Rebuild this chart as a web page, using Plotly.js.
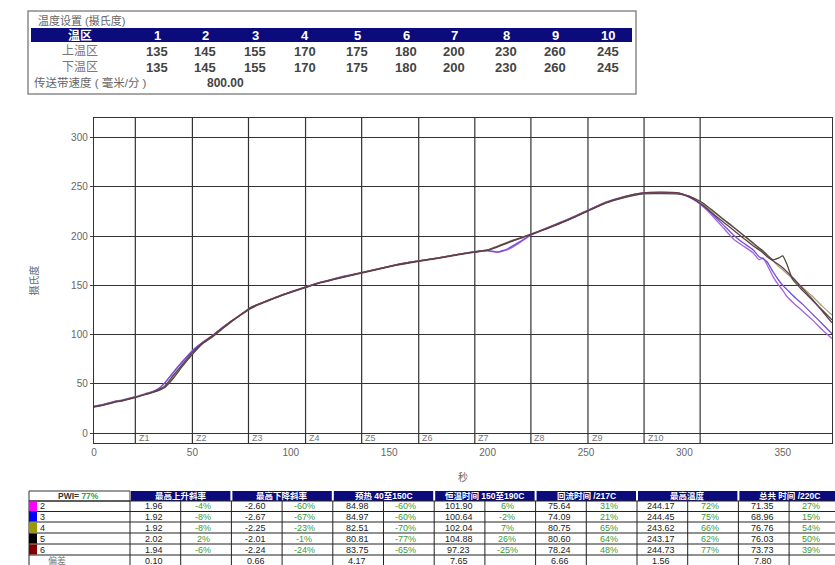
<!DOCTYPE html>
<html>
<head>
<meta charset="utf-8">
<script src="https://cdn.plot.ly/plotly-3.0.1.min.js"></script>
<style>html,body{margin:0;padding:0;background:#fff;}#chart{width:835px;height:565px;}</style>
</head>
<body>
<div id="chart"></div>
<script>
// ---------- data ----------
const zoneLabels = ['1','2','3','4','5','6','7','8','9','10'];
const upperTemps = [135,145,155,170,175,180,200,230,260,245];
const lowerTemps = [135,145,155,170,175,180,200,230,260,245];
const conveyorSpeed = '800.00';

const zoneStarts = [21,50,78.5,107.5,136,165,193.5,222,251,279.5,308];

const seriesNames = ['2','3','4','5','6'];
const timeSec = [0,5,10,15,21,26,30,33,36,40,45,50,55,60,65,70,75,80,85,90,95,100,107,115,125,136,145,155,165,175,185,193,200,205,210,216,222,230,240,251,260,270,279,288,297,302,306,310,315,320,325,330,335,338,340,342,345,348,350,352,355,360,365,370,375];
const temp2 = [27,29,31.5,33.5,36.5,39.5,42,45,51,61,73,84,92,99,107,114,121,128,132,136,140,143,148,153,158,163,167,171.5,175,178,181.5,184,185,183.5,186,193,201,208,216,226,234,240,243.5,244.2,243.6,240,235.5,229,219,208,197,190,183,176,178,171,159,150,145,139,133,124,115,105,96];
const temp3 = [27.5,29.5,32,34,37,40,42.5,45.5,51,61,72.5,83.5,91.5,98.5,106.5,114,121,127.5,132,136,140,143.5,148,153,158.5,163,167,171.5,175,178,181.5,184,185.5,184,187,194,201.5,208.5,216.5,226.5,234.5,240.5,244,244.45,243.8,240.5,236,230,221,211,201,193,186,179,177,174,164,155,150,146,140,131,121,111,101];
const temp4 = [27,29,31.5,33.5,36.5,39.5,42,44,47,56,69,81,91,98,106,114,121,127.5,132,136,140,143.5,148,153,158,163,167,171.5,175,178,181.5,184,186,190,194,198,202,208,216,226,234,240,243.3,243.62,243.2,241,237,232,224,216.5,209,201,192,187,184,180,175,169,166,162,157,148,139,129,120];
const temp5 = [26.5,28.5,31,33,36,39,41.5,43.5,46.5,55,68,80,90.5,97.5,105.5,113.5,120.5,127,131.5,135.5,139.5,143,147.5,152.5,157.5,162.5,166.5,171,174.5,177.5,181,183.5,185.5,189.5,193.5,197.5,201.5,207.5,215.5,225.5,233.5,239.5,243,243.17,242.8,241,237.5,233,225,217,209,201,193,188,185,181,176,178,180,172,156,145,135,125,115];
const temp6 = [27,29,31.5,33.5,36.5,39.5,42,44.5,48,58,70,82,91.5,98.5,106.5,114,121,128,132,136,140,143.5,148,153,158,163,167,171.5,175,178,181.5,184,186,189,193,197.5,202,208,216,226,234,240.5,244,244.73,244,240.5,236,230.5,222,214,206,198,190,186,183,179,175,171,168,164,158,147,136,124,112];

const metricHeaders = ['最高上升斜率','最高下降斜率','预热 40至150C','恒温时间 150至190C','回流时间 /217C','最高温度','总共 时间 /220C'];
const pwiLabel = 'PWI=';
const pwiValue = '77%';
const maxRise     = ['1.96','1.92','1.92','2.02','1.94'];
const maxRisePct  = ['-4%','-8%','-8%','2%','-6%'];
const maxFall     = ['-2.60','-2.67','-2.25','-2.01','-2.24'];
const maxFallPct  = ['-60%','-67%','-23%','-1%','-24%'];
const preheat     = ['84.98','84.97','82.51','80.81','83.75'];
const preheatPct  = ['-60%','-60%','-70%','-77%','-65%'];
const soak        = ['101.90','100.64','102.04','104.88','97.23'];
const soakPct     = ['6%','-2%','7%','26%','-25%'];
const reflow      = ['75.64','74.09','80.75','80.60','78.24'];
const reflowPct   = ['31%','21%','65%','64%','48%'];
const peakTemp    = ['244.17','244.45','243.62','243.17','244.73'];
const peakTempPct = ['72%','75%','66%','62%','77%'];
const totalTime   = ['71.35','68.96','76.76','76.03','73.73'];
const totalTimePct= ['27%','15%','54%','50%','39%'];
const deviationLabel = '偏差';
const deviation   = ['0.10','0.66','4.17','7.65','6.66','1.56','7.80'];

// ---------- styles ----------
const FONT = 'Liberation Sans, Arial, Noto Sans CJK SC, sans-serif';
const swatchColors = ['#ff00ff','#0000ff','#999900','#000000','#800000'];
const lineColors = ['#a860e0','#7054d8','#a6a67c','#4c4c44','#6a3a4c'];
const NAVY = '#0b0b7c';
const GREEN = '#3a9a3a';

// plot box in pixels
const L = 94, R = 832, T = 118, B = 443;
const X = px => (px - L) / (R - L);
const Y = py => (B - py) / (B - T);

const shapes = [];
const annotations = [];

function txt(px, py, text, o) {
  o = o || {};
  annotations.push({
    xref: 'paper', yref: 'paper', x: X(px), y: Y(py), text: text, showarrow: false,
    xanchor: o.anchor || 'center', yanchor: 'middle',
    font: {family: FONT, size: o.size || 10, color: o.color || '#333'},
    borderpad: 0
  });
}
function rect(x0, y0, x1, y1, o) {
  shapes.push({type: 'rect', xref: 'paper', yref: 'paper', x0: X(x0), x1: X(x1), y0: Y(y1), y1: Y(y0),
    fillcolor: o.fill || 'rgba(0,0,0,0)', line: {color: o.line || 'rgba(0,0,0,0)', width: o.width === undefined ? 1 : o.width}, layer: 'above'});
}
function hline(x0, x1, py, color, w) {
  shapes.push({type: 'line', xref: 'paper', yref: 'paper', x0: X(x0), x1: X(x1), y0: Y(py), y1: Y(py), line: {color: color, width: w || 1}});
}
function vline(px, y0, y1, color, w) {
  shapes.push({type: 'line', xref: 'paper', yref: 'paper', x0: X(px), x1: X(px), y0: Y(y0), y1: Y(y1), line: {color: color, width: w || 1}});
}

// ---------- zone lines in plot ----------
zoneStarts.forEach((z, i) => {
  shapes.push({type: 'line', xref: 'x', yref: 'y', x0: z, x1: z, y0: -10, y1: 320, line: {color: '#333', width: 1.2}, layer: 'below'});
  if (i < zoneLabels.length) {
    annotations.push({xref: 'x', yref: 'y', x: z + 0.8, y: -5, text: 'Z' + zoneLabels[i], showarrow: false,
      xanchor: 'left', yanchor: 'middle', font: {family: FONT, size: 9, color: '#777'}});
  }
});

// ---------- top settings table ----------
rect(28, 11, 636, 94, {line: '#8a8a8a', width: 1.5});
rect(31, 28, 632, 42, {fill: NAVY, width: 0});
txt(37, 20, '温度设置 (摄氏度)', {anchor: 'left', size: 11, color: '#666'});
const colX = [157,205,255,305,357,406,454,506,555,608];
txt(80, 35, '<b>温区</b>', {size: 12, color: '#fff'});
txt(80, 51, '上温区', {size: 12, color: '#777'});
txt(80, 67, '下温区', {size: 12, color: '#777'});
zoneLabels.forEach((z, i) => {
  txt(colX[i], 35, '<b>' + z + '</b>', {size: 13, color: '#fff'});
  txt(colX[i], 51, '<b>' + upperTemps[i] + '</b>', {size: 13, color: '#444'});
  txt(colX[i], 67, '<b>' + lowerTemps[i] + '</b>', {size: 13, color: '#444'});
});
txt(33, 83, '传送带速度 ( 毫米/分 )', {anchor: 'left', size: 11.5, color: '#666'});
txt(225, 83, '<b>' + conveyorSpeed + '</b>', {size: 12, color: '#444'});

// ---------- bottom stats table ----------
const tL = 29, c0 = 130, cw = 50.7, tR = 130 + 14 * 50.7;
const hTop = 491, hBot = 501;
const rowLines = [501, 511.5, 522, 533, 544, 555, 566];
rect(tL, hTop, c0, hBot, {line: '#333', width: 1});
txt(78, 496, '<b>' + pwiLabel + ' <span style="color:' + GREEN + '">' + pwiValue + '</span></b>', {size: 8.5, color: '#333'});
metricHeaders.forEach((h, i) => {
  const a = c0 + i * 2 * cw;
  rect(a + 1, hTop, a + 2 * cw - 1, hBot, {fill: NAVY, width: 0});
  txt(a + cw, 496, '<b>' + h + '</b>', {size: 8.5, color: '#fff'});
});
rowLines.forEach(y => hline(tL, tR, y, '#222', 1));
vline(tL, hBot, 566, '#222', 1);
for (let k = 0; k <= 14; k++) vline(c0 + k * cw, hBot, 566, '#222', 1);
const valueCols = [maxRise, maxFall, preheat, soak, reflow, peakTemp, totalTime];
const pctCols = [maxRisePct, maxFallPct, preheatPct, soakPct, reflowPct, peakTempPct, totalTimePct];
seriesNames.forEach((s, r) => {
  const y0 = rowLines[r], y1 = rowLines[r + 1], yc = (y0 + y1) / 2;
  rect(tL, y0 + 0.5, tL + 8, y1 - 0.5, {fill: swatchColors[r], width: 0});
  txt(39, yc, s, {anchor: 'left', size: 9, color: '#222'});
  valueCols.forEach((col, i) => {
    txt(c0 + (2 * i + 0.5) * cw - 1, yc, col[r], {size: 9, color: '#222'});
    txt(c0 + (2 * i + 1.5) * cw - 3, yc, pctCols[i][r], {size: 9, color: GREEN});
  });
});
{
  const yc = (rowLines[5] + rowLines[6]) / 2;
  txt(57, yc, deviationLabel, {size: 9, color: '#777'});
  deviation.forEach((d, i) => txt(c0 + (2 * i + 0.5) * cw - 1, yc, d, {size: 9, color: '#222'}));
}

// ---------- traces ----------
const temps = [temp2, temp3, temp4, temp5, temp6];
const order = [0, 1, 2, 3, 4];
const traces = order.map(i => ({
  type: 'scatter', mode: 'lines', name: seriesNames[i],
  x: timeSec, y: temps[i],
  line: {color: lineColors[i], width: 1.3, shape: 'spline', smoothing: 0.4},
  hoverinfo: 'x+y+name'
}));

const layout = {
  width: 835, height: 565,
  margin: {l: L, r: 835 - R, t: T, b: 565 - B, pad: 0},
  paper_bgcolor: '#fff', plot_bgcolor: '#fff',
  showlegend: false,
  font: {family: FONT, size: 10, color: '#666'},
  xaxis: {
    range: [0, 375], tickvals: [0, 50, 100, 150, 200, 250, 300, 350],
    showgrid: false, zeroline: false, showline: true, mirror: true,
    linecolor: '#333', linewidth: 1.2, ticks: '',
    tickfont: {family: FONT, size: 10, color: '#666'},
    title: {text: '秒', font: {family: FONT, size: 10, color: '#666'}, standoff: 16},
    automargin: false, fixedrange: true
  },
  yaxis: {
    range: [-10, 320], tick0: 0, dtick: 50,
    showgrid: true, gridcolor: '#333', gridwidth: 1,
    zeroline: true, zerolinecolor: '#333', zerolinewidth: 1,
    showline: true, mirror: true, linecolor: '#333', linewidth: 1.2,
    ticks: 'outside', ticklen: 3, tickcolor: '#444',
    tickfont: {family: FONT, size: 10, color: '#666'},
    title: {text: '摄氏度', font: {family: FONT, size: 10, color: '#666'}, standoff: 30},
    automargin: false, fixedrange: true
  },
  shapes: shapes,
  annotations: annotations
};

Plotly.newPlot('chart', traces, layout, {displayModeBar: false, staticPlot: true});
</script>
</body>
</html>
